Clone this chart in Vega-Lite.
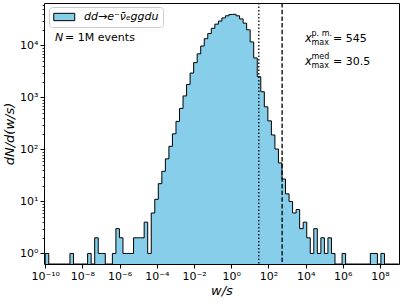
{
  "$schema": "https://vega.github.io/schema/vega-lite/v6.json",
  "width": 355,
  "height": 261,
  "autosize": {"type": "none"},
  "padding": {"left": 44, "top": 3, "right": 3, "bottom": 38},
  "config": {
    "view": {"stroke": "black", "strokeWidth": 1},
    "font": "DejaVu Sans",
    "text": {"font": "DejaVu Sans", "color": "black"}
  },
  "datasets": {
    "hist": [
      {"w": 1e-10, "n": 0},
      {"w": 1e-10, "n": 1},
      {"w": 1.549e-10, "n": 0},
      {"w": 2.399e-10, "n": 0},
      {"w": 3.715e-10, "n": 0},
      {"w": 5.754e-10, "n": 0},
      {"w": 8.913e-10, "n": 0},
      {"w": 1.380e-9, "n": 0},
      {"w": 2.138e-9, "n": 1},
      {"w": 3.311e-9, "n": 0},
      {"w": 5.129e-9, "n": 0},
      {"w": 7.943e-9, "n": 0},
      {"w": 1.230e-8, "n": 0},
      {"w": 1.905e-8, "n": 1},
      {"w": 2.951e-8, "n": 0},
      {"w": 4.571e-8, "n": 2},
      {"w": 7.079e-8, "n": 1},
      {"w": 1.096e-7, "n": 1},
      {"w": 1.698e-7, "n": 0},
      {"w": 2.630e-7, "n": 0},
      {"w": 4.074e-7, "n": 1},
      {"w": 6.310e-7, "n": 3},
      {"w": 9.772e-7, "n": 2},
      {"w": 1.514e-6, "n": 1},
      {"w": 2.344e-6, "n": 1},
      {"w": 3.631e-6, "n": 1},
      {"w": 5.623e-6, "n": 2},
      {"w": 8.710e-6, "n": 2},
      {"w": 1.349e-5, "n": 2},
      {"w": 2.089e-5, "n": 4},
      {"w": 3.236e-5, "n": 1},
      {"w": 5.012e-5, "n": 6},
      {"w": 7.762e-5, "n": 11},
      {"w": 1.202e-4, "n": 22},
      {"w": 1.862e-4, "n": 38},
      {"w": 2.884e-4, "n": 66},
      {"w": 4.467e-4, "n": 115},
      {"w": 6.918e-4, "n": 200},
      {"w": 1.072e-3, "n": 347},
      {"w": 1.660e-3, "n": 617},
      {"w": 2.570e-3, "n": 1070},
      {"w": 3.981e-3, "n": 1780},
      {"w": 6.166e-3, "n": 2950},
      {"w": 9.550e-3, "n": 4680},
      {"w": 1.479e-2, "n": 6900},
      {"w": 2.291e-2, "n": 9770},
      {"w": 3.548e-2, "n": 13500},
      {"w": 5.495e-2, "n": 17000},
      {"w": 8.511e-2, "n": 21400},
      {"w": 0.1318, "n": 25700},
      {"w": 0.2042, "n": 29500},
      {"w": 0.3162, "n": 33900},
      {"w": 0.4898, "n": 37200},
      {"w": 0.7586, "n": 39400},
      {"w": 1.175, "n": 39800},
      {"w": 1.820, "n": 37200},
      {"w": 2.818, "n": 32400},
      {"w": 4.365, "n": 26900},
      {"w": 6.761, "n": 20000},
      {"w": 10.47, "n": 11700},
      {"w": 16.22, "n": 5750},
      {"w": 25.12, "n": 2510},
      {"w": 38.90, "n": 1290},
      {"w": 60.26, "n": 660},
      {"w": 93.33, "n": 355},
      {"w": 144.5, "n": 190},
      {"w": 223.9, "n": 102},
      {"w": 346.7, "n": 55},
      {"w": 537.0, "n": 27},
      {"w": 831.8, "n": 14},
      {"w": 1288, "n": 10},
      {"w": 1995, "n": 6},
      {"w": 3090, "n": 7},
      {"w": 4786, "n": 3},
      {"w": 7413, "n": 4},
      {"w": 11482, "n": 2},
      {"w": 17783, "n": 1},
      {"w": 27542, "n": 3},
      {"w": 42658, "n": 1},
      {"w": 66069, "n": 2},
      {"w": 102330, "n": 1},
      {"w": 158490, "n": 2},
      {"w": 245470, "n": 1},
      {"w": 380190, "n": 0},
      {"w": 588840, "n": 0},
      {"w": 912010, "n": 1},
      {"w": 1.413e6, "n": 0},
      {"w": 2.188e6, "n": 0},
      {"w": 3.388e6, "n": 0},
      {"w": 5.248e6, "n": 0},
      {"w": 8.128e6, "n": 0},
      {"w": 1.259e7, "n": 0},
      {"w": 1.950e7, "n": 0},
      {"w": 3.020e7, "n": 1},
      {"w": 4.677e7, "n": 1},
      {"w": 7.244e7, "n": 0},
      {"w": 1.122e8, "n": 1},
      {"w": 1.738e8, "n": 0},
      {"w": 2.692e8, "n": 0},
      {"w": 4.169e8, "n": 0},
      {"w": 6.457e8, "n": 0},
      {"w": 1e9, "n": 0}
    ],
    "one": [{"label": "annotation"}]
  },
  "resolve": {"axis": {"x": "independent", "y": "independent"}},
  "layer": [
    {
      "data": {"name": "hist"},
      "mark": {"type": "area", "interpolate": "step-after", "clip": true, "opacity": 1},
      "encoding": {
        "x": {
          "field": "w", "type": "quantitative",
          "scale": {"type": "log", "domain": [8.6e-11, 1.05e9], "nice": false},
          "axis": {
            "orient": "bottom",
            "values": [1e-10, 1e-8, 1e-6, 1e-4, 1e-2, 1, 100, 10000, 1000000, 100000000],
            "labelExpr": "'10' + replace(replace(replace(replace(replace(replace(replace(replace(replace(replace(replace('' + round(log(datum.value) / LN10), '-', '⁻'), '0', '⁰'), '1', '¹'), '2', '²'), '3', '³'), '4', '⁴'), '5', '⁵'), '6', '⁶'), '7', '⁷'), '8', '⁸'), '9', '⁹')",
            "title": "w/s",
            "domain": false, "grid": false,
            "tickSize": 4, "tickColor": "black", "tickWidth": 1,
            "labelFont": "DejaVu Sans", "labelFontSize": 11, "labelColor": "black",
            "labelPadding": 2, "labelFlush": false, "labelOverlap": false,
            "titleFont": "DejaVu Sans", "titleFontSize": 13, "titleFontStyle": "italic",
            "titleFontWeight": "normal", "titleColor": "black", "titlePadding": 3
          }
        },
        "y": {
          "field": "n", "type": "quantitative",
          "scale": {"type": "log", "domain": [0.627, 65600], "nice": false, "clamp": true},
          "axis": {
            "orient": "left",
            "values": [1, 10, 100, 1000, 10000],
            "labelExpr": "'10' + replace(replace(replace(replace(replace(replace(replace(replace(replace(replace(replace('' + round(log(datum.value) / LN10), '-', '⁻'), '0', '⁰'), '1', '¹'), '2', '²'), '3', '³'), '4', '⁴'), '5', '⁵'), '6', '⁶'), '7', '⁷'), '8', '⁸'), '9', '⁹')",
            "title": "dN/d(w/s)",
            "domain": false, "grid": false,
            "tickSize": 4, "tickColor": "black", "tickWidth": 1,
            "labelFont": "DejaVu Sans", "labelFontSize": 11, "labelColor": "black",
            "labelPadding": 2, "labelFlush": false, "labelOverlap": false,
            "titleFont": "DejaVu Sans", "titleFontSize": 13, "titleFontStyle": "italic",
            "titleFontWeight": "normal", "titleColor": "black", "titlePadding": 3
          }
        },
        "color": {
          "datum": "dd→e⁻ν̄ₑggdu", "type": "nominal",
          "scale": {"range": ["#87ceeb"]},
          "legend": {
            "orient": "none", "legendX": 5, "legendY": 4,
            "title": null,
            "symbolType": "M-1,-0.7H3V0.7H-1Z",
            "symbolSize": 110,
            "symbolStrokeColor": "black", "symbolStrokeWidth": 1, "symbolOpacity": 1,
            "labelFont": "DejaVu Sans", "labelFontStyle": "italic", "labelFontSize": 11,
            "labelColor": "black", "labelOffset": 19,
            "padding": 4, "strokeColor": "#cccccc", "fillColor": "white", "cornerRadius": 3
          }
        }
      }
    },
    {
      "data": {"name": "hist"},
      "mark": {"type": "line", "interpolate": "step-after", "clip": true, "color": "black", "strokeWidth": 1},
      "encoding": {
        "x": {"field": "w", "type": "quantitative", "scale": {"type": "log", "domain": [8.6e-11, 1.05e9], "nice": false}, "axis": null},
        "y": {
          "field": "n", "type": "quantitative",
          "scale": {"type": "log", "domain": [0.627, 65600], "nice": false, "clamp": true},
          "axis": {
            "orient": "left",
            "values": [2, 3, 4, 5, 6, 7, 8, 9, 20, 30, 40, 50, 60, 70, 80, 90, 200, 300, 400, 500, 600, 700, 800, 900, 2000, 3000, 4000, 5000, 6000, 7000, 8000, 9000, 20000, 30000, 40000, 50000, 60000],
            "labels": false, "title": null, "domain": false, "grid": false,
            "tickSize": 2, "tickColor": "black", "tickWidth": 0.8
          }
        }
      }
    },
    {
      "data": {"name": "one"},
      "mark": {"type": "rule", "color": "black", "strokeWidth": 1.3, "strokeDash": [1.5, 2]},
      "encoding": {"x": {"datum": 30.5, "type": "quantitative", "axis": null}}
    },
    {
      "data": {"name": "one"},
      "mark": {"type": "rule", "color": "black", "strokeWidth": 1.3, "strokeDash": [4.5, 2.2]},
      "encoding": {"x": {"datum": 545, "type": "quantitative", "axis": null}}
    },
    {
      "data": {"name": "one"},
      "mark": {"type": "text", "text": "N", "align": "left", "baseline": "middle", "fontSize": 11, "fontStyle": "italic"},
      "encoding": {
        "x": {"datum": 3.4e-10, "type": "quantitative", "axis": null},
        "y": {"datum": 14000, "type": "quantitative", "axis": null}
      }
    },
    {
      "data": {"name": "one"},
      "mark": {"type": "text", "text": "= 1M events", "align": "left", "baseline": "middle", "fontSize": 11, "dx": 10},
      "encoding": {
        "x": {"datum": 3.4e-10, "type": "quantitative", "axis": null},
        "y": {"datum": 14000, "type": "quantitative", "axis": null}
      }
    },
    {
      "data": {"name": "one"},
      "mark": {"type": "text", "text": "x", "align": "left", "baseline": "alphabetic", "fontSize": 11.5, "fontStyle": "italic"},
      "encoding": {
        "x": {"datum": 9290, "type": "quantitative", "axis": null},
        "y": {"datum": 11580, "type": "quantitative", "axis": null}
      }
    },
    {
      "data": {"name": "one"},
      "mark": {"type": "text", "text": "p. m.", "align": "left", "baseline": "alphabetic", "fontSize": 8, "dx": 6.5, "dy": -6.5},
      "encoding": {
        "x": {"datum": 9290, "type": "quantitative", "axis": null},
        "y": {"datum": 11580, "type": "quantitative", "axis": null}
      }
    },
    {
      "data": {"name": "one"},
      "mark": {"type": "text", "text": "max", "align": "left", "baseline": "alphabetic", "fontSize": 8, "dx": 6.5, "dy": 2.5},
      "encoding": {
        "x": {"datum": 9290, "type": "quantitative", "axis": null},
        "y": {"datum": 11580, "type": "quantitative", "axis": null}
      }
    },
    {
      "data": {"name": "one"},
      "mark": {"type": "text", "text": "= 545", "align": "left", "baseline": "alphabetic", "fontSize": 11, "dx": 28},
      "encoding": {
        "x": {"datum": 9290, "type": "quantitative", "axis": null},
        "y": {"datum": 11580, "type": "quantitative", "axis": null}
      }
    },
    {
      "data": {"name": "one"},
      "mark": {"type": "text", "text": "x", "align": "left", "baseline": "alphabetic", "fontSize": 11.5, "fontStyle": "italic"},
      "encoding": {
        "x": {"datum": 9290, "type": "quantitative", "axis": null},
        "y": {"datum": 4170, "type": "quantitative", "axis": null}
      }
    },
    {
      "data": {"name": "one"},
      "mark": {"type": "text", "text": "med", "align": "left", "baseline": "alphabetic", "fontSize": 8, "dx": 6.5, "dy": -6},
      "encoding": {
        "x": {"datum": 9290, "type": "quantitative", "axis": null},
        "y": {"datum": 4170, "type": "quantitative", "axis": null}
      }
    },
    {
      "data": {"name": "one"},
      "mark": {"type": "text", "text": "max", "align": "left", "baseline": "alphabetic", "fontSize": 8, "dx": 6.5, "dy": 3},
      "encoding": {
        "x": {"datum": 9290, "type": "quantitative", "axis": null},
        "y": {"datum": 4170, "type": "quantitative", "axis": null}
      }
    },
    {
      "data": {"name": "one"},
      "mark": {"type": "text", "text": "= 30.5", "align": "left", "baseline": "alphabetic", "fontSize": 11, "dx": 28},
      "encoding": {
        "x": {"datum": 9290, "type": "quantitative", "axis": null},
        "y": {"datum": 4170, "type": "quantitative", "axis": null}
      }
    }
  ]
}
